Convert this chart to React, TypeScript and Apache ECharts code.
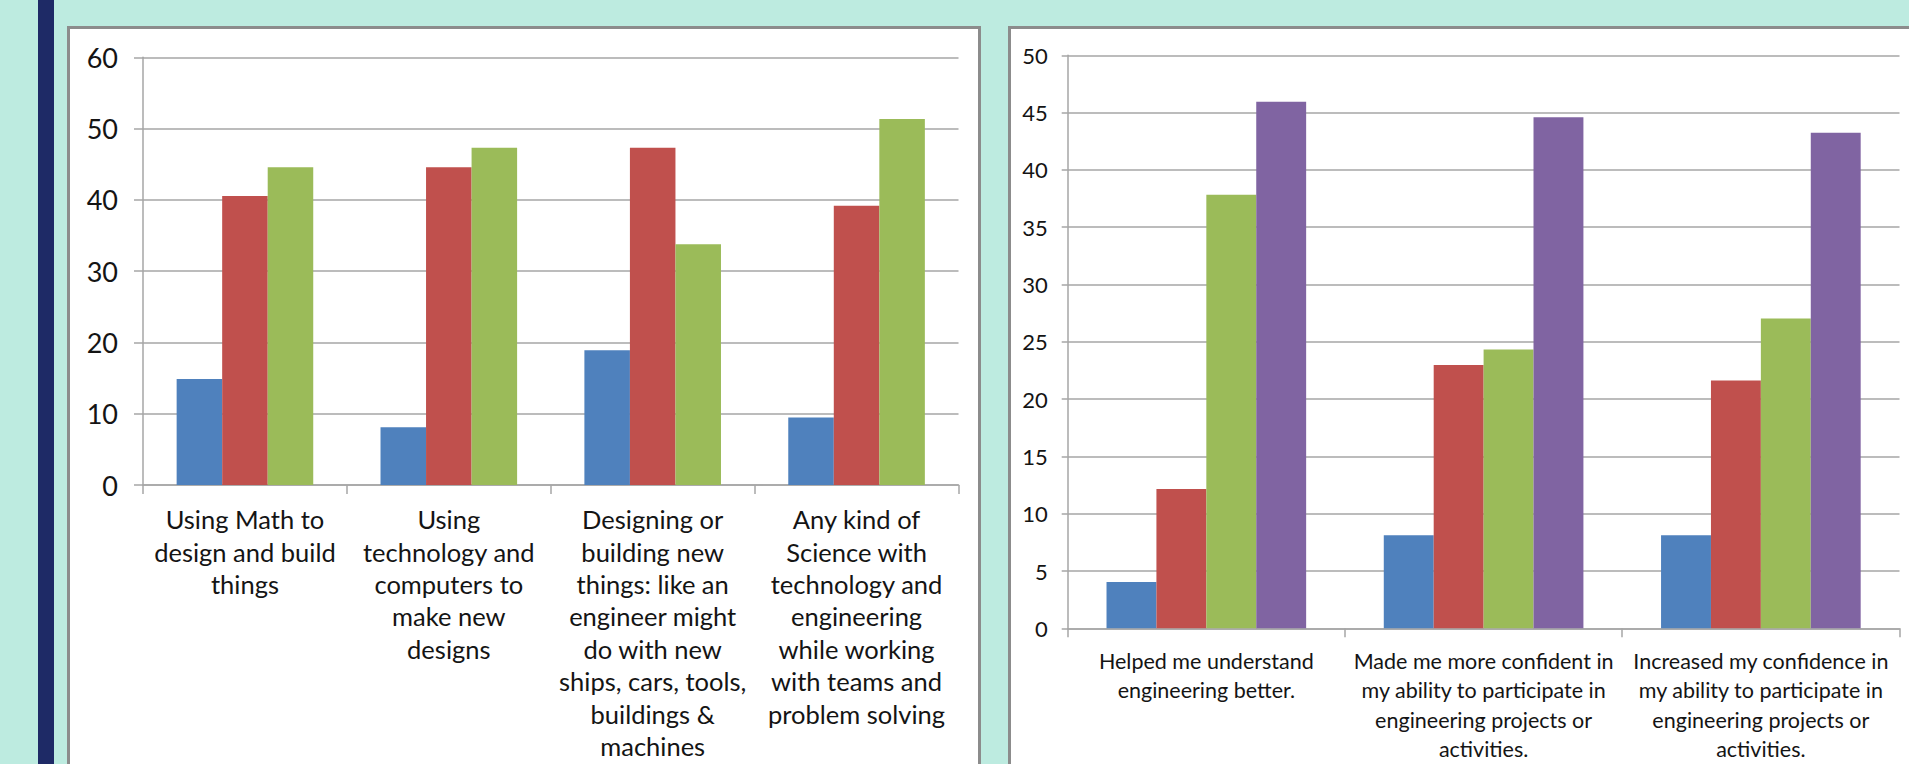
import React, { useEffect, useRef } from "react";
import * as echarts from "echarts";

// Survey responses (% of students) for the two question sets
const leftCategories = [
  "Using Math to\ndesign and build\nthings",
  "Using\ntechnology and\ncomputers to\nmake new\ndesigns",
  "Designing or\nbuilding new\nthings: like an\nengineer might\ndo with new\nships, cars, tools,\nbuildings &\nmachines",
  "Any kind of\nScience with\ntechnology and\nengineering\nwhile working\nwith teams and\nproblem solving",
];
const leftSeries1 = [14.86, 8.11, 18.92, 9.46];
const leftSeries2 = [40.54, 44.59, 47.3, 39.19];
const leftSeries3 = [44.59, 47.3, 33.78, 51.35];

const rightCategories = [
  "Helped me understand\nengineering better.",
  "Made me more confident in\nmy ability to participate in\nengineering projects or\nactivities.",
  "Increased my confidence in\nmy ability to participate in\nengineering projects or\nactivities.",
];
const rightSeries1 = [4.05, 8.11, 8.11];
const rightSeries2 = [12.16, 22.97, 21.62];
const rightSeries3 = [37.84, 24.32, 27.03];
const rightSeries4 = [45.95, 44.59, 43.24];

const leftTicks = { min: 0, max: 60, interval: 10 };
const rightTicks = { min: 0, max: 50, interval: 5 };

const BLUE = "#4F81BD";
const RED = "#C0504D";
const GREEN = "#9BBB59";
const PURPLE = "#8064A2";
const TEAL = "#BDEBE0";
const NAVY = "#1E2A66";
const FRAME = "#8C8C8C";
const GRID_LINE = "#A6A6A6";
const TEXT = "#141414";
const FONT = "Lato, 'Noto Sans', sans-serif";

function bar(name: string, data: number[], color: string, axisIndex: number, gap: string) {
  return {
    type: "bar",
    name,
    data,
    xAxisIndex: axisIndex,
    yAxisIndex: axisIndex,
    barGap: "0%",
    barCategoryGap: gap,
    itemStyle: { color },
  };
}

export default function App() {
  const ref = useRef<HTMLDivElement>(null);

  useEffect(() => {
    if (!ref.current) return;
    const chart = echarts.init(ref.current, undefined, { renderer: "svg" });

    const yAxisCommon = {
      type: "value",
      axisLine: { show: true, lineStyle: { color: GRID_LINE, width: 1.5 } },
      axisTick: { show: true, lineStyle: { color: GRID_LINE, width: 1.5 } },
      splitLine: { show: true, lineStyle: { color: GRID_LINE, width: 1.5 } },
    };
    const xAxisCommon = {
      type: "category",
      axisLine: { show: true, lineStyle: { color: GRID_LINE, width: 1.5 } },
      axisTick: { show: true, length: 9, lineStyle: { color: GRID_LINE, width: 1.5 } },
    };

    chart.setOption({
      animation: false,
      backgroundColor: TEAL,
      graphic: [
        { type: "rect", z: -10, shape: { x: 38, y: 0, width: 16, height: 764 }, style: { fill: NAVY } },
        {
          type: "rect",
          z: -10,
          shape: { x: 68.5, y: 27.5, width: 911, height: 760 },
          style: { fill: "#FFFFFF", stroke: FRAME, lineWidth: 3 },
        },
        {
          type: "rect",
          z: -10,
          shape: { x: 1009.5, y: 27.5, width: 920, height: 760 },
          style: { fill: "#FFFFFF", stroke: FRAME, lineWidth: 3 },
        },
      ],
      grid: [
        { left: 143, top: 57.3, width: 815.5, height: 427.7, outerBoundsMode: "none", containLabel: false },
        { left: 1067.7, top: 55.3, width: 831.8, height: 573, outerBoundsMode: "none", containLabel: false },
      ],
      xAxis: [
        {
          ...xAxisCommon,
          gridIndex: 0,
          data: leftCategories,
          axisLabel: {
            interval: 0,
            margin: 18,
            color: TEXT,
            fontFamily: FONT,
            fontSize: 25.5,
            lineHeight: 32.4,
            align: "center",
          },
        },
        {
          ...xAxisCommon,
          gridIndex: 1,
          data: rightCategories,
          axisLabel: {
            interval: 0,
            margin: 18,
            color: TEXT,
            fontFamily: FONT,
            fontSize: 21.5,
            lineHeight: 29.3,
            align: "center",
          },
        },
      ],
      yAxis: [
        {
          ...yAxisCommon,
          gridIndex: 0,
          ...leftTicks,
          axisTick: { ...yAxisCommon.axisTick, length: 9 },
          axisLabel: { margin: 25, color: TEXT, fontFamily: FONT, fontSize: 27 },
        },
        {
          ...yAxisCommon,
          gridIndex: 1,
          ...rightTicks,
          axisTick: { ...yAxisCommon.axisTick, length: 6 },
          axisLabel: { margin: 20, color: TEXT, fontFamily: FONT, fontSize: 22 },
        },
      ],
      series: [
        bar("Series 1", leftSeries1, BLUE, 0, "33%"),
        bar("Series 2", leftSeries2, RED, 0, "33%"),
        bar("Series 3", leftSeries3, GREEN, 0, "33%"),
        bar("Series 1", rightSeries1, BLUE, 1, "28%"),
        bar("Series 2", rightSeries2, RED, 1, "28%"),
        bar("Series 3", rightSeries3, GREEN, 1, "28%"),
        bar("Series 4", rightSeries4, PURPLE, 1, "28%"),
      ],
    });

    return () => chart.dispose();
  }, []);

  return (
    <div
      ref={ref}
      style={{ position: "fixed", left: 0, top: 0, width: 1909, height: 764 }}
    />
  );
}
